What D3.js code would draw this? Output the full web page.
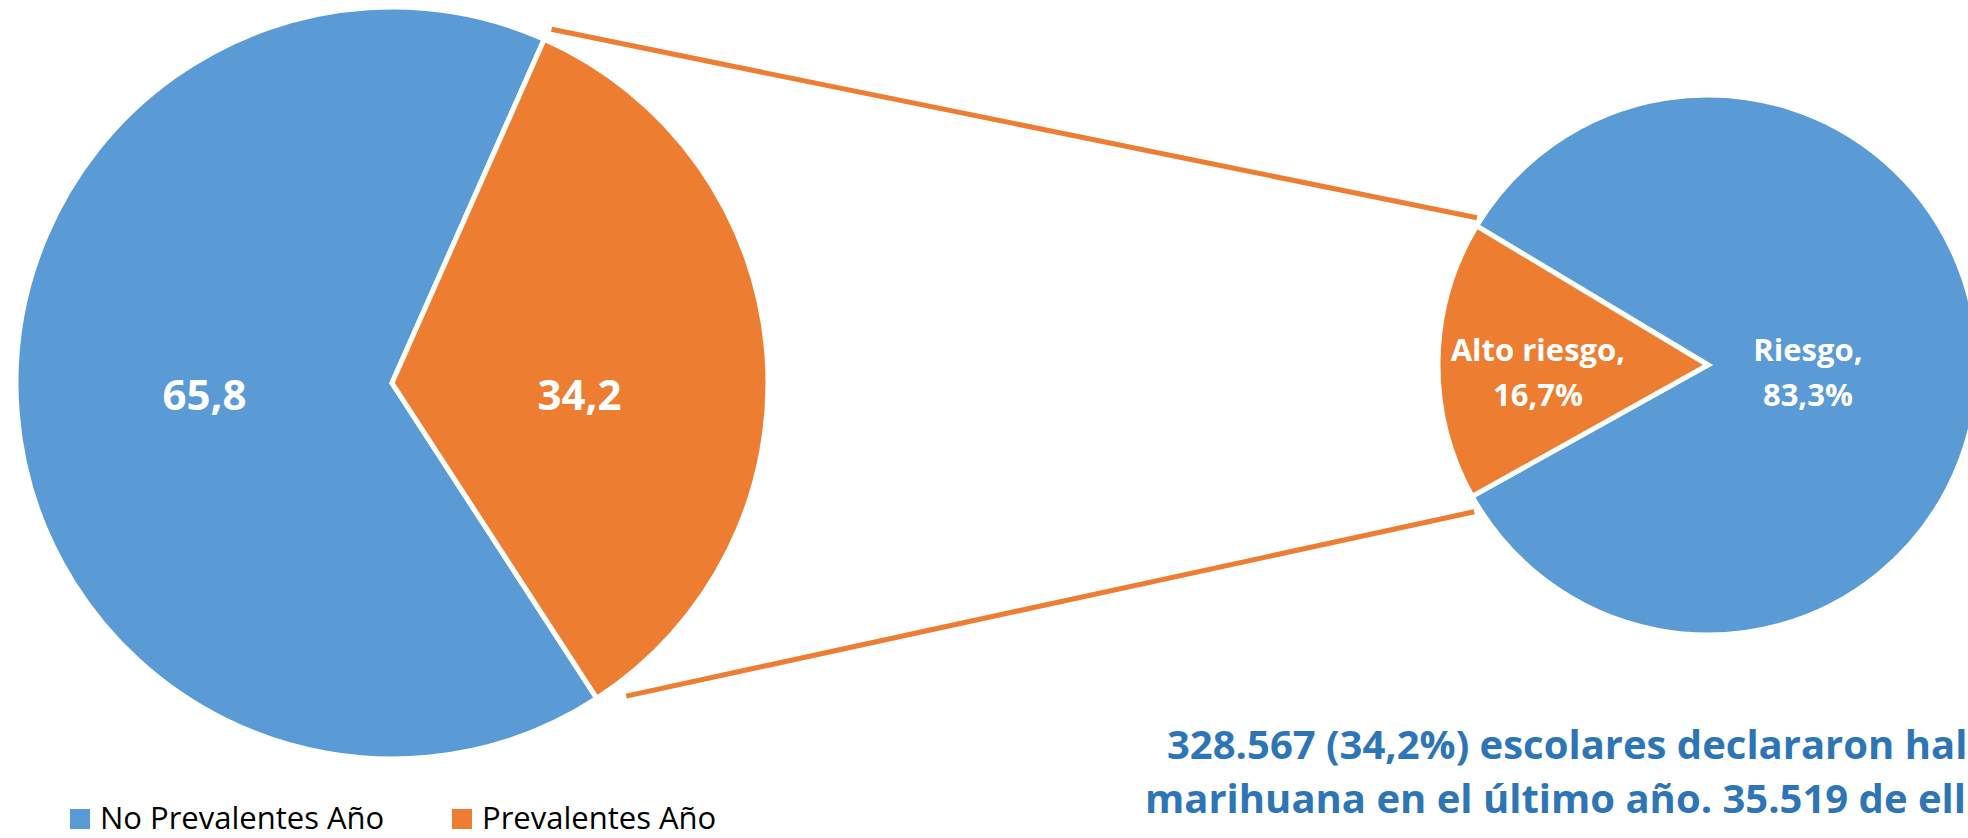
<!DOCTYPE html>
<html>
<head>
<meta charset="utf-8">
<script src="https://cdn.jsdelivr.net/npm/d3@7/dist/d3.min.js"></script>
<style>
  html, body { margin: 0; padding: 0; background: #ffffff; overflow: hidden; }
  svg { display: block; }
</style>
</head>
<body>
<div id="chart"></div>
<script>
// ---------- data ----------
const mainCategories = ["No Prevalentes Año", "Prevalentes Año"];
const mainValues = [65.8, 34.2];
const mainLabels = ["65,8", "34,2"];

const subCategories = ["Riesgo", "Alto riesgo"];
const subValues = [83.3, 16.7];
const subLabels = [["Riesgo,", "83,3%"], ["Alto riesgo,", "16,7%"]];

const noteLines = [
  "328.567 (34,2%) escolares declararon hal",
  "marihuana en el último año. 35.519 de ell"
];

const seriesColors = ["#5B9BD5", "#ED7D31"];

// ---------- layout ----------
const W = 1968, H = 838;
const deg = Math.PI / 180;
const mainPie = { cx: 392, cy: 383, r: 376, start: 147 * deg };
const subPie  = { cx: 1708, cy: 365, r: 270, start: 301 * deg };
const FONT = "'Open Sans', 'Noto Sans', sans-serif";

const svg = d3.select("#chart").append("svg")
  .attr("width", W).attr("height", H)
  .attr("viewBox", `0 0 ${W} ${H}`);

const color = d3.scaleOrdinal().domain([0, 1]).range(seriesColors);

function drawPie(p, values, labelFn) {
  const pie = d3.pie().sort(null).value(d => d)
    .startAngle(p.start).endAngle(p.start + 2 * Math.PI);
  const arcs = pie(values);
  const arc = d3.arc().innerRadius(0).outerRadius(p.r);
  const g = svg.append("g").attr("transform", `translate(${p.cx},${p.cy})`);
  g.selectAll("path").data(arcs).join("path")
    .attr("d", arc)
    .attr("fill", (d, i) => color(i))
    .attr("stroke", "#ffffff")
    .attr("stroke-width", 5)
    .attr("stroke-linejoin", "miter");
  labelFn(g, arcs);
  return arcs;
}

function pointAt(p, angle, radius) {
  return [p.cx + radius * Math.sin(angle), p.cy - radius * Math.cos(angle)];
}

// main pie
const mainArcs = drawPie(mainPie, mainValues, (g, arcs) => {
  const labelArc = d3.arc().innerRadius(mainPie.r * 0.5).outerRadius(mainPie.r * 0.5);
  g.selectAll("text").data(arcs).join("text")
    .attr("x", d => labelArc.centroid(d)[0])
    .attr("y", 27)
    .attr("text-anchor", "middle")
    .attr("font-family", FONT)
    .attr("font-weight", 700)
    .attr("font-size", 42)
    .attr("fill", "#ffffff")
    .text((d, i) => mainLabels[i]);
});

// sub pie
const subArcs = drawPie(subPie, subValues, (g, arcs) => {
  const fr = [0.37, 0.63];
  const t = g.selectAll("text").data(arcs).join("text")
    .attr("text-anchor", "middle")
    .attr("font-family", FONT)
    .attr("font-weight", 700)
    .attr("font-size", 31)
    .attr("fill", "#ffffff")
    .attr("transform", (d, i) => {
      const a = d3.arc().innerRadius(subPie.r * fr[i]).outerRadius(subPie.r * fr[i]);
      const c = a.centroid(d);
      return `translate(${c[0]},0)`;
    });
  t.each(function (d, i) {
    const sel = d3.select(this);
    sel.append("tspan").attr("x", 0).attr("y", -4).text(subLabels[i][0]);
    sel.append("tspan").attr("x", 0).attr("y", 41).text(subLabels[i][1]);
  });
});

// connector lines between the "Prevalentes" slice and the sub pie
const orange = mainArcs[1];
const subOrange = subArcs[1];
const connectors = [
  [pointAt(mainPie, orange.startAngle + 0.4 * deg, mainPie.r + 12),
   pointAt(subPie, subOrange.endAngle + 1.5 * deg, subPie.r + 4)],
  [pointAt(mainPie, orange.endAngle - 3.8 * deg, mainPie.r + 15),
   pointAt(subPie, subOrange.startAngle - 3 * deg, subPie.r + 6)]
];
svg.append("g").selectAll("line").data(connectors).join("line")
  .attr("x1", d => d[0][0]).attr("y1", d => d[0][1])
  .attr("x2", d => d[1][0]).attr("y2", d => d[1][1])
  .attr("stroke", seriesColors[1])
  .attr("stroke-width", 5);

// note text (clipped by the right edge as in the reference)
svg.append("g").selectAll("text").data(noteLines).join("text")
  .attr("x", (d, i) => [1167, 1145][i])
  .attr("y", (d, i) => [759, 813][i])
  .attr("font-family", FONT)
  .attr("font-weight", 700)
  .attr("font-size", 40)
  .attr("fill", "#2E75B6")
  .text(d => d);

// legend
const legend = svg.append("g").attr("transform", "translate(70,809)");
const items = legend.selectAll("g").data(mainCategories).join("g")
  .attr("transform", (d, i) => `translate(${[0, 382][i]},0)`);
items.append("rect").attr("width", 20).attr("height", 20)
  .attr("fill", (d, i) => color(i));
items.append("text").attr("x", 30).attr("y", 20)
  .attr("font-family", FONT)
  .attr("font-size", 31)
  .attr("fill", "#000000")
  .text(d => d);
</script>
</body>
</html>
